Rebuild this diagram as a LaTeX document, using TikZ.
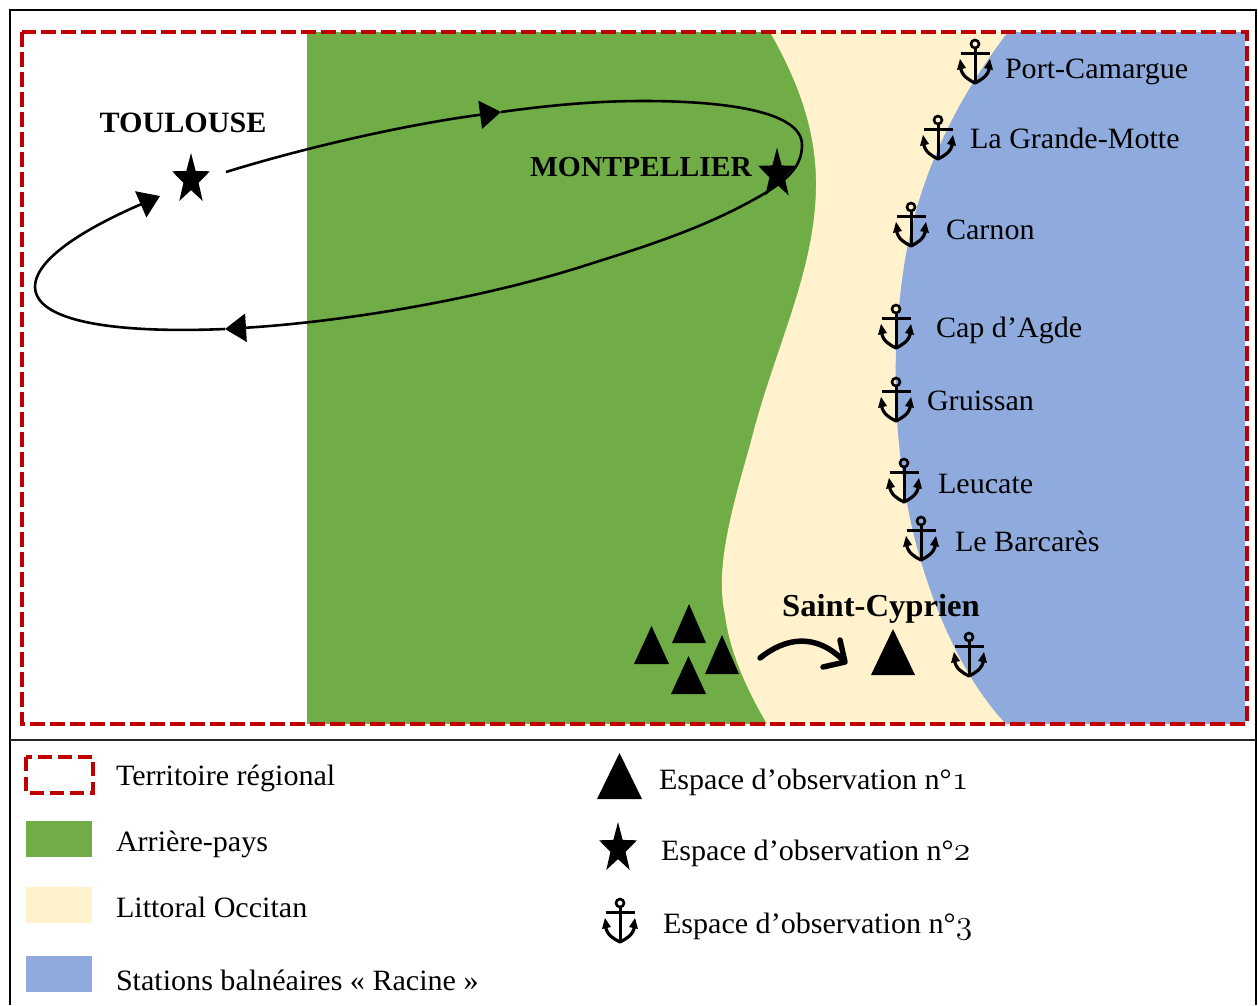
\documentclass[tikz,border=0pt]{standalone}
\usepackage{fontspec}
\setmainfont[FakeStretch=1.02]{Liberation Serif}
\usetikzlibrary{shapes.geometric,arrows.meta}
\definecolor{redc}{HTML}{C00000}
\definecolor{greenc}{HTML}{70AD47}
\definecolor{creamc}{HTML}{FFF2CC}
\definecolor{bluec}{HTML}{8FAADC}
\newcommand{\osn}[1]{\scalebox{1.35}{\usefont{OML}{lmm}{m}{it}#1}}
\tikzset{
  x=1pt,y=-1pt,
  lab/.style={anchor=base west,inner sep=0,outer sep=0,font=\fontsize{29.5}{32}\selectfont,text=black},
  blab/.style={anchor=base,inner sep=0,outer sep=0,text=black},
  starnode/.style={star,star points=5,star point ratio=2.5,minimum size=53pt,inner sep=0,fill=black,xscale=0.75,transform shape},
  redbox/.style={draw=redc,line width=4.5pt,dash pattern=on 15pt off 5pt},
  loopline/.style={line width=2.6pt,black},
  tip/.style={-{Triangle[length=21pt,width=28pt]}},
  anchorpic/.pic={
    \draw[line width=2.6pt] (0,0) circle (4);
    \draw[line width=3pt] (0,4) -- (0,38);
    \draw[line width=3pt] (-14.5,9.5) -- (14.5,9.5);
    \draw[line width=3.2pt,line join=round] (-14.5,23) .. controls (-13.5,32) and (-6,36) .. (0,39) .. controls (6,36) and (13.5,32) .. (14.5,23);
    \fill (-18,26) -- (-15,15) -- (-9,24) -- cycle;
    \fill (18,26) -- (15,15) -- (9,24) -- cycle;
  }
}
\begin{document}
\begin{tikzpicture}
\useasboundingbox (0,0) rectangle (1258,1005);
\fill[white] (0,0) rectangle (1258,1005);
% regions
\fill[greenc] (307,32) rectangle (830,724);
\fill[creamc] (770,32) .. controls (800,85) and (815,130) .. (816,180)
  .. controls (817,270) and (775,345) .. (750,445)
  .. controls (730,515) and (715,570) .. (725,615)
  .. controls (730,655) and (750,695) .. (767,724)
  -- (1100,724) -- (1100,32) -- cycle;
\fill[bluec] (1008,32) .. controls (960,95) and (920,170) .. (905,260)
  .. controls (893,335) and (892,410) .. (905,490)
  .. controls (915,560) and (950,665) .. (1006,724)
  -- (1245,724) -- (1245,32) -- cycle;
% frame
\draw[line width=2.4pt,black] (10,1005) -- (10,10) -- (1256,10) -- (1256,1005);
\draw[line width=1.8pt,black!85] (10,740) -- (1256,740);
\draw[redbox] (22,32) rectangle (1247,724);
% loop
\coordinate (la) at (226,172);
\coordinate (lb) at (501,112);
\coordinate (lc) at (225,329);
\coordinate (ld) at (160,196);
\draw[loopline,tip] (la) .. controls (310,146) and (410,124) .. (lb);
\draw[loopline,tip] (lb) .. controls (565,103) and (610,101) .. (643,101)
  .. controls (720,101) and (802,110) .. (802,145)
  .. controls (802,168) and (785,180) .. (767,192)
  .. controls (710,226) and (650,245) .. (593,263)
  .. controls (480,300) and (340,322) .. (lc);
\draw[loopline,tip] (lc) .. controls (130,333) and (36,325) .. (35,287)
  .. controls (35,255) and (100,222) .. (ld);
% stars
\node[starnode] (toulouse) at (191,179.5) {};
\node[starnode] (montpellier) at (777,174) {};
\node[blab,font=\fontsize{29.5}{32}\selectfont\bfseries] (ltoulouse) at (183,132) {TOULOUSE};
\node[blab,font=\fontsize{29}{32}\selectfont\bfseries] (lmontpellier) at (641,176) {MONTPELLIER};
% town anchors
\pic at (975,44) {anchorpic};
\pic at (938,120) {anchorpic};
\pic at (911,207) {anchorpic};
\pic at (896,309) {anchorpic};
\pic at (896,382) {anchorpic};
\pic at (904,463) {anchorpic};
\pic at (921,521) {anchorpic};
\pic at (969,637) {anchorpic};
\node[lab] (t1) at (1005,78) {Port-Camargue};
\node[lab] (t2) at (970,148) {La Grande-Motte};
\node[lab] (t3) at (946,239) {Carnon};
\node[lab] (t4) at (936,337) {Cap d’Agde};
\node[lab] (t5) at (927,410) {Gruissan};
\node[lab] (t6) at (938,493) {Leucate};
\node[lab] (t7) at (955,551) {Le Barcarès};
\node[blab,font=\fontsize{32}{34}\selectfont\bfseries] (t8) at (881,616) {Saint-Cyprien};
% triangles
\fill (634,664) -- (651.5,626) -- (669,664) -- cycle;
\fill (672,643) -- (689,604) -- (706,643) -- cycle;
\fill (705,674) -- (722,635) -- (739,674) -- cycle;
\fill (671,694) -- (688.5,656) -- (706,694) -- cycle;
\fill (871,675) -- (893,629) -- (915,675) -- cycle;
% curved arrow
\draw[line width=5.5pt,line cap=round,line join=round] (760,658) .. controls (785,638) and (815,632) .. (844,661);
\draw[line width=5.5pt,line cap=round,line join=round] (840,640) -- (845,662) -- (823,667);
% legend
\draw[draw=redc,line width=4pt,dash pattern=on 14pt off 6pt] (26,757) rectangle (93,793);
\fill[greenc] (26,821) rectangle (92,857);
\fill[creamc] (26,887) rectangle (92,923);
\fill[bluec] (26,956) rectangle (92,992);
\node[lab] (g1) at (116,785) {Territoire régional};
\node[lab] (g2) at (116,851) {Arrière-pays};
\node[lab] (g3) at (116,917) {Littoral Occitan};
\node[lab] (g4) at (116,990) {Stations balnéaires « Racine »};
\fill (597,799) -- (619.5,753) -- (642,799) -- cycle;
\node[starnode] (gs) at (618,848.5) {};
\pic at (620,903) {anchorpic};
\node[lab] (g5) at (659,789) {Espace d’observation n°\osn{1}};
\node[lab] (g6) at (661,860) {Espace d’observation n°\osn{2}};
\node[lab] (g7) at (663,933) {Espace d’observation n°\osn{3}};
\end{tikzpicture}
\end{document}
